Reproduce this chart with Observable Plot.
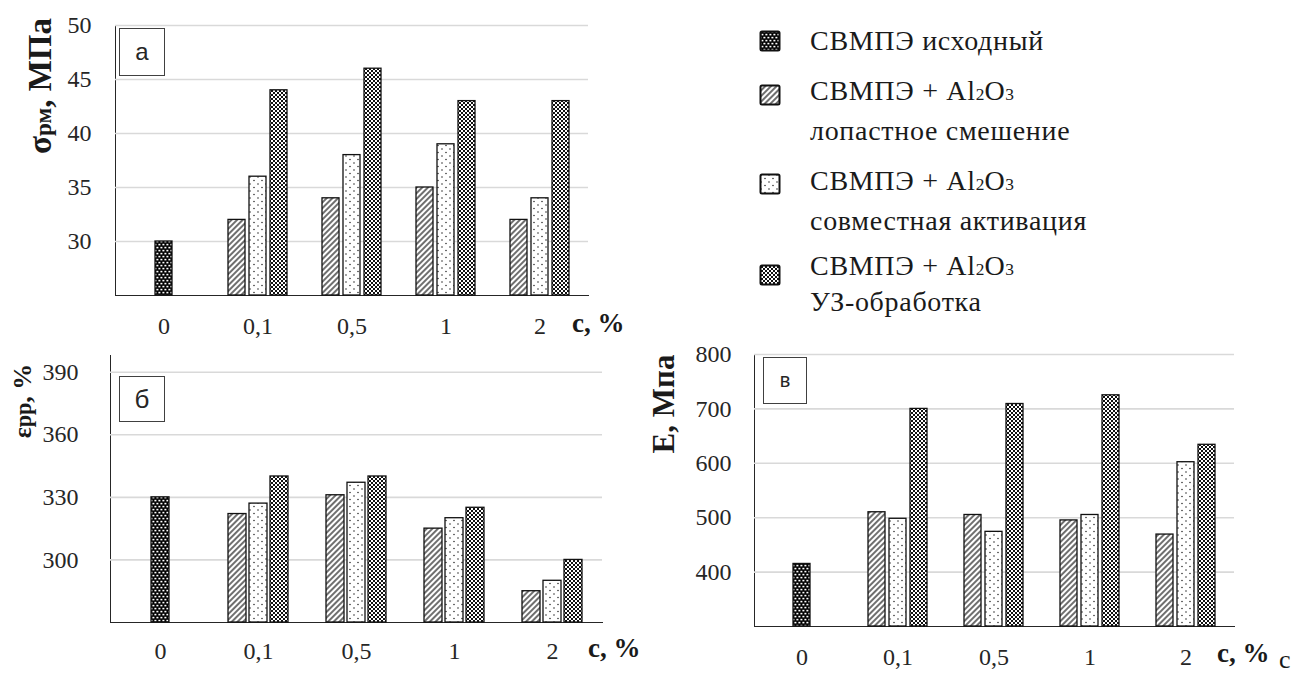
<!DOCTYPE html>
<html><head><meta charset="utf-8">
<script src="https://cdn.jsdelivr.net/npm/d3@7"></script>
<script src="https://cdn.jsdelivr.net/npm/@observablehq/plot@0.6"></script>
<style>
html,body{margin:0;padding:0;background:#fff;}
#root{position:relative;width:1294px;height:675px;overflow:hidden;font-family:"Liberation Serif","DejaVu Serif",serif;color:#262626;background:#fff;}
.plotwrap{position:absolute;}
.ylab{position:absolute;font-weight:bold;white-space:nowrap;line-height:1;transform:translate(-50%,-50%) rotate(-90deg);color:#1a1a1a;font-family:"Liberation Serif","DejaVu Serif",serif;}
.xlab{position:absolute;font-weight:bold;font-size:27px;white-space:nowrap;line-height:1;transform:translate(0,-50%);color:#1a1a1a;font-family:"Liberation Serif","DejaVu Serif",serif;}
.pbox{position:absolute;border:1.5px solid #404040;background:#fff;box-sizing:border-box;display:flex;align-items:center;justify-content:center;font-family:"Liberation Sans",sans-serif;color:#262626;}
.leg{position:absolute;font-size:28px;letter-spacing:0.7px;white-space:nowrap;line-height:1;transform:translateY(-50%);color:#1a1a1a;font-family:"Liberation Serif","DejaVu Serif",serif;}
.sw{position:absolute;}
.sm{font-size:0.62em;letter-spacing:0;}
</style></head>
<body>
<svg width="0" height="0" style="position:absolute">
<defs>
<pattern id="pBase" width="4" height="6" patternUnits="userSpaceOnUse">
 <rect width="4" height="6" fill="#000"/>
 <rect x="0.4" y="0.8" width="2" height="1.6" fill="#fff"/>
 <rect x="2.4" y="3.8" width="2" height="1.6" fill="#fff"/>
 <rect x="-1.6" y="3.8" width="2" height="1.6" fill="#fff"/>
</pattern>
<pattern id="pHatch" width="4" height="4" patternUnits="userSpaceOnUse" patternTransform="rotate(45)">
 <rect width="4" height="4" fill="#fff"/>
 <line x1="2" y1="0" x2="2" y2="4" stroke="#222" stroke-width="1.3"/>
</pattern>
<pattern id="pDots" width="8" height="7" patternUnits="userSpaceOnUse">
 <rect width="8" height="7" fill="#fff"/>
 <circle cx="2" cy="2" r="0.8" fill="#333"/>
 <circle cx="6" cy="5.5" r="0.8" fill="#333"/>
</pattern>
<pattern id="pCheck" width="4" height="4" patternUnits="userSpaceOnUse">
 <rect width="4" height="4" fill="#fff"/>
 <rect width="2" height="2" fill="#111"/>
 <rect x="2" y="2" width="2" height="2" fill="#111"/>
</pattern>
</defs>
</svg>
<div id="root"></div>
<script>
// ---- data ----
const categories = ["0", "0,1", "0,5", "1", "2"];
const seriesFills = ["url(#pBase)", "url(#pHatch)", "url(#pDots)", "url(#pCheck)"];

// panel а: σрм, МПа
const sigmaBase = [30];
const sigmaBlade = [32, 34, 35, 32];
const sigmaJoint = [36, 38, 39, 34];
const sigmaUS = [44, 46, 43, 43];
const sigmaTicks = [30, 35, 40, 45, 50];

// panel б: εрр, %
const epsBase = [330];
const epsBlade = [322, 331, 315, 285];
const epsJoint = [327, 337, 320, 290];
const epsUS = [340, 340, 325, 300];
const epsTicks = [300, 330, 360, 390];

// panel в: E, МПа
const modBase = [415];
const modBlade = [510, 505, 495, 469];
const modJoint = [498, 474, 505, 602];
const modUS = [700, 709, 725, 634];
const modTicks = [400, 500, 600, 700, 800];

const legendNames = [
  ["СВМПЭ исходный"],
  ["СВМПЭ + Al<span class='sm'>2</span>O<span class='sm'>3</span>", "лопастное смешение"],
  ["СВМПЭ + Al<span class='sm'>2</span>O<span class='sm'>3</span>", "совместная активация"],
  ["СВМПЭ + Al<span class='sm'>2</span>O<span class='sm'>3</span>", "УЗ-обработка"]
];

// ---- build ----
const root = document.getElementById("root");

function rows(vals, cats) { return vals.map((v, i) => ({cat: cats[i], value: v})); }

function panel(cfg) {
  const {base, blade, joint, us, yDomain, yTicks, width, height, mt, mr, mb, ml, padY, padX} = cfg;
  const y0 = yDomain[0];
  const common = {x: "cat", y1: y0, y2: "value", stroke: "#111", strokeWidth: 1.3};
  return Plot.plot({
    width, height,
    marginTop: mt, marginRight: mr, marginBottom: mb, marginLeft: ml,
    style: {background: "transparent", fontFamily: "'Liberation Serif', 'DejaVu Serif', serif", fontSize: "24px", color: "#262626", overflow: "visible"},
    x: {type: "band", domain: categories, paddingInner: 0.82, paddingOuter: 0.41, label: null, tickSize: 0, tickPadding: padX, line: true},
    y: {domain: yDomain, ticks: yTicks, label: null, tickSize: 0, tickPadding: padY, line: true},
    marks: [
      Plot.ruleY(yTicks, {stroke: "#d9d9d9", strokeWidth: 1.6}),
      Plot.barY(rows(base, categories.slice(0, 1)), {...common, fill: seriesFills[0]}),
      Plot.barY(rows(blade, categories.slice(1)), {...common, fill: seriesFills[1], dx: -21}),
      Plot.barY(rows(joint, categories.slice(1)), {...common, fill: seriesFills[2]}),
      Plot.barY(rows(us, categories.slice(1)), {...common, fill: seriesFills[3], dx: 21})
    ]
  });
}

function place(el, left, top) {
  const w = document.createElement("div");
  w.className = "plotwrap";
  w.style.left = left + "px"; w.style.top = top + "px";
  w.appendChild(el);
  root.appendChild(w);
}

place(panel({base: sigmaBase, blade: sigmaBlade, joint: sigmaJoint, us: sigmaUS,
  yDomain: [25, 50], yTicks: sigmaTicks, width: 640, height: 340, mt: 25, mr: 52, mb: 45, ml: 115, padY: 24, padX: 21}), 0, 0);
place(panel({base: epsBase, blade: epsBlade, joint: epsJoint, us: epsUS,
  yDomain: [270, 398], yTicks: epsTicks, width: 660, height: 335, mt: 15, mr: 58, mb: 53, ml: 110, padY: 32, padX: 19}), 0, 340);
place(panel({base: modBase, blade: modBlade, joint: modJoint, us: modUS,
  yDomain: [300, 800], yTicks: modTicks, width: 654, height: 345, mt: 24, mr: 60, mb: 49, ml: 114, padY: 23, padX: 21}), 640, 330);

function addHTML(cls, html, style) {
  const d = document.createElement("div");
  d.className = cls; d.innerHTML = html;
  Object.assign(d.style, style);
  root.appendChild(d);
  return d;
}

// y-axis titles
addHTML("ylab", "σ<span style='font-size:0.7em'>рм</span>, МПа", {left: "40px", top: "86px", fontSize: "33px"});
addHTML("ylab", "ε<span style='font-size:0.85em'>рр</span>, %", {left: "23px", top: "401px", fontSize: "26px"});
addHTML("ylab", "E, Мпа", {left: "663px", top: "404px", fontSize: "31px"});

// x-axis titles
addHTML("xlab", "c, %", {left: "572px", top: "323px"});
addHTML("xlab", "c, %", {left: "588px", top: "648px"});
addHTML("xlab", "c, %", {left: "1217px", top: "653px"});
addHTML("xlab", "с", {left: "1279px", top: "660px", fontWeight: "normal", fontSize: "26px"});

// panel labels
addHTML("pbox", "а", {left: "119px", top: "28px", width: "46px", height: "48px", fontSize: "24px"});
addHTML("pbox", "б", {left: "119px", top: "376px", width: "46px", height: "46px", fontSize: "26px"});
addHTML("pbox", "в", {left: "763px", top: "357px", width: "44px", height: "47px", fontSize: "20px"});

// legend
const legLineY = [[41], [91, 131], [181, 221], [266, 302]];
const swY = [41, 95, 184, 275];
legendNames.forEach((lines, i) => {
  const s = document.createElementNS("http://www.w3.org/2000/svg", "svg");
  s.setAttribute("width", 22); s.setAttribute("height", 22);
  s.setAttribute("class", "sw");
  s.style.left = "759px"; s.style.top = (swY[i] - 11) + "px";
  const r = document.createElementNS("http://www.w3.org/2000/svg", "rect");
  r.setAttribute("x", 1.5); r.setAttribute("y", 1.5); r.setAttribute("width", 19); r.setAttribute("height", 19);
  r.setAttribute("rx", 1.5);
  r.setAttribute("fill", seriesFills[i]); r.setAttribute("stroke", "#111"); r.setAttribute("stroke-width", 2);
  s.appendChild(r);
  root.appendChild(s);
  lines.forEach((t, j) => addHTML("leg", t, {left: "810px", top: legLineY[i][j] + "px"}));
});
</script>
</body></html>
